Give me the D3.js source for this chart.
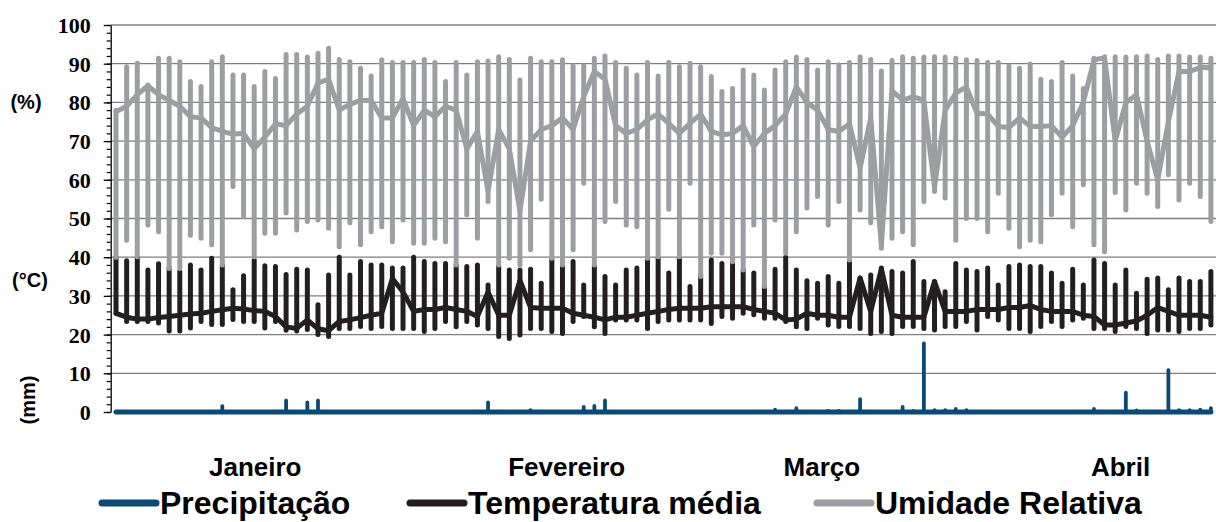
<!DOCTYPE html>
<html><head><meta charset="utf-8">
<script src="https://cdn.jsdelivr.net/npm/d3@7"></script>
<style>body{margin:0;background:#fff}svg{display:block}</style>
</head><body><svg id="c" width="1216" height="522"></svg>
<script>
// ---- data ----
const days = d3.range(1, 105); // daily observations (Jan -> mid Apr)
const months = ["Janeiro", "Fevereiro", "Março", "Abril"];
const monthLabelDay = [13.1, 42.4, 66.4, 94.5];
const yTickValues = [0,10,20,30,40,50,60,70,80,90,100];
const legendLabels = ["Precipitação", "Temperatura média", "Umidade Relativa"];

const precipitation = [0,0,0,0,0,0,0,0,0,0, 1.5,0,0,0,0,0,3,0,2.5,3, 0,0,0,0,0,0,0,0,0,0,
 0,0,0,0,0,2.5,0,0,0,0.5, 0,0,0,0,1.3,1.6,3,0,0,0, 0,0,0,0,0,0,0,0,0,0,
 0,0,0.6,0,1,0,0,0.3,0.3,0, 3.3,0,0,0,1.3,0.3,17.7,0.5,0.5,0.8, 0.5,0,0,0,0,0,0,0,0,0,
 0,0,0.8,0,0,5,0.4,0,0,10.8, 0.5,0.5,0.6,1];

const tempMax = [40,39.1,40,36.7,38.3,37.2,36.3,38,36.7,39.7, 38,31.6,35.2,39.3,37.8,37.6,35.5,36.9,36.7,27.7,
 35.4,40,35.4,38.9,38,38,37.2,37.2,40,38.9, 38.4,38.4,38,37.6,38,32.8,37.6,36.7,36.7,36.9,
 33.3,39.5,37.6,38.9,32.8,37.6,35,32.8,36.7,37.2, 39.7,39.7,35.9,40,32.4,35.4,39.3,38.4,39.7,36.7,
 35.9,32.4,36.9,40,36.7,33.9,33.3,35,33.3,38.9, 34.6,35.4,37.2,36.3,35.9,38.9,33.7,33.7,31.1,38.4,
 36.7,36.3,37.2,32.8,37.6,38,37.6,37.6,35.9,33.3, 36.9,32.8,39.3,38.4,32.8,36.7,30.7,34.3,34.6,31.6,
 34.6,33.7,33.7,36.3];
const tempMin = [25.5,23.4,23.4,23.4,23,20.9,20.9,21.7,23.4,22.6, 22.6,23.9,23.4,23.4,21.7,23.4,21.1,20.9,21.3,20,
 19.5,21.6,21.6,22.1,21.6,22.1,21.6,21.6,21.6,20.8, 21.6,23.4,22,23.4,22.5,21.6,19.5,19,19.9,21.6,
 21.6,20.8,20.3,23.4,24.7,22,20.3,23.8,23.8,23.8, 21.6,23.4,23.8,23.8,23.8,23.8,22.9,24.7,24.2,25.5,
 25.1,24.2,24.2,23.4,22,21.6,24.2,22.5,22.1,22.1, 21.6,20.3,20.8,20.3,22.1,22.1,21.6,21.2,22.1,22.1,
 23.4,21.2,24.7,23.8,21.6,21.6,20.8,22.1,23.4,22.1, 23.8,24.2,21.6,21.6,20.8,22.1,21.6,20.3,21.2,21.2,
 20.8,21.6,21.6,22.5];
const tempMean = [25.5,24.5,24,24,24.4,24.7,25,25.3,25.5,26, 26.4,26.8,26.6,26.2,26,24.7,22,21.6,23.8,21.5,
 21,23.4,23.8,24.4,25,25.5,34.5,31,26,26.5, 26.5,27,26.5,26,24.7,31,25,25,34,27,
 26.8,26.8,26.8,25.5,25,24.5,23.8,24.5,24.5,25, 25.5,26,26.5,26.8,26.8,26.8,27.2,27.2,27.2,27.2,
 26.5,26,25.5,23.8,24,25.5,25,25,24.5,24.5, 34.6,26,37,25,24.5,24.5,24.5,33.7,26,26,
 26,26.5,26.5,26.5,27,27,27.5,26.5,26,26, 26,25,24.7,22.5,22.5,23,23.5,25,27,26,
 25,25,25,24.5];

const humMax = [78,89.2,90.1,84.5,91.4,91.4,90.5,85.4,84.1,90.5, 91.8,87.1,87.1,84.1,88,86.2,92.4,92.4,91.7,92.7,
 94,91.1,90.5,88.8,86.8,91,90.3,90.3,90.3,91.1, 90.3,85.4,90.3,87.1,90.5,90.7,91.8,91.1,85.8,91.4,
 90.5,90.5,91,89.5,89.5,91.4,92,90.3,88.8,87.1, 90.3,86.8,90.3,89.2,90.1,89.2,86.7,82.8,83.6,88.4,
 87.1,83.2,88.4,90.5,91.7,91.1,88.4,90.5,89.7,90.3, 91.8,91.1,88.1,90.8,91.8,91.4,91.7,91.8,91.7,91.4,
 91,90.8,90.3,90.3,89.4,88.8,89.9,86,85.4,90.3, 86.8,83.6,91.4,91.8,91.8,91.7,91.8,92,91.1,92,
 92,91.7,91.7,91.4];
const humMin = [40,44.4,40.1,48.3,46.6,37.1,37.1,45.7,44.9,43.2, 38,58.3,50.5,40.1,46.2,46.2,51.4,47,49.2,49.6,
 47.5,42.7,48.9,43.2,46.6,47.9,44,49.6,43.6,43.6, 44.9,44,38,51,44.9,54.4,38,39.7,38,41.9,
 55,39.7,38,41.9,59.1,38,49.2,54.4,48.3,47.9, 39.7,40.1,52.4,40.1,59.1,35,41,41,38.8,36.7,
 48.3,32.4,49.6,41,46.6,52.7,55.7,48.3,54.4,39.3, 52.2,48.9,42.3,44.9,46.6,43.2,54.4,57,55.3,44.4,
 50,50,46.6,56.5,47.5,42.7,44.4,44,51,56.5, 47.9,58.7,43.2,41.4,56.7,52.2,59.1,56.5,53.1,61.3,
 54.8,59.1,55.7,49.2];
const humMean = [77.6,79,82,84.3,82,80.5,79,76.3,76,73.5, 72.5,71.8,72,68,71,74.5,74,77,79,85,
 86,78,79.5,80.5,80.5,76,76,81,74,78, 76.3,79,78,68,72.5,57,73,68,52,70,
 73,74,76,73,81.5,88,86,74,72,73, 75.5,77,74.6,72,74.6,77,72.5,71.6,72,74,
 68.6,72,74,77,84,80,78,73,72.5,74.5, 63,76,43,83,80.6,81.5,80.5,58,78,82.4,
 84,77.2,77,73.8,73.5,76,73.8,73.8,74,71, 74,80,91,91.5,70,80,82,70,60,75,
 88,88,89,89];

// ---- layout ----
const svg = d3.select("#c");
const L = 110.7, R = 1216.2, T = 25, B = 412;
const x = d3.scaleLinear().domain([-0.5, days.length - 0.5]).range([L, R]);
const y = d3.scaleLinear().domain([0, 100]).range([B, T]);
const colBlue = "#0b4a76", colBlack = "#231f20", colGray = "#9c9ea1";

// gridlines
svg.append("g").selectAll("line").data(yTickValues.filter(v => v > 0)).join("line")
  .attr("x1", L).attr("x2", R).attr("y1", d => y(d)).attr("y2", d => y(d))
  .attr("stroke", "#7f7f7f").attr("stroke-width", 1.3);

// axis
const minor = svg.append("g").attr("transform", `translate(${L},0)`)
  .call(d3.axisLeft(y).tickValues(d3.range(0, 101, 2)).tickSize(4).tickFormat(""));
minor.select(".domain").remove();
minor.selectAll("line").attr("stroke", "#000").attr("stroke-width", 1.2);
const major = svg.append("g").attr("transform", `translate(${L},0)`)
  .call(d3.axisLeft(y).tickValues(yTickValues).tickSize(7).tickPadding(13).tickSizeOuter(0));
major.select(".domain").attr("stroke", "#000").attr("stroke-width", 1.3);
major.selectAll("line").attr("stroke", "#000").attr("stroke-width", 1.3);
major.selectAll("text").attr("font-family", "'Liberation Serif', 'Times New Roman', serif")
  .attr("font-weight", "bold").attr("font-size", 22).attr("fill", "#000").attr("dy", "0.34em");

// series helper: high-low bars + mean line
function drawSeries(maxArr, minArr, meanArr, color, w) {
  const g = svg.append("g");
  g.selectAll("line").data(days.map((d, i) => i)).join("line")
    .attr("x1", i => x(i)).attr("x2", i => x(i))
    .attr("y1", i => y(minArr[i])).attr("y2", i => y(maxArr[i]))
    .attr("stroke", color).attr("stroke-width", w).attr("stroke-linecap", "round");
  g.append("path").datum(meanArr)
    .attr("d", d3.line().x((v, i) => x(i)).y(v => y(v)))
    .attr("fill", "none").attr("stroke", color).attr("stroke-width", w)
    .attr("stroke-linejoin", "round").attr("stroke-linecap", "round");
}

// precipitation
const gp = svg.append("g");
gp.selectAll("line").data(precipitation.map((v, i) => [i, v]).filter(d => d[1] > 0)).join("line")
  .attr("x1", d => x(d[0])).attr("x2", d => x(d[0]))
  .attr("y1", y(0)).attr("y2", d => y(d[1]))
  .attr("stroke", colBlue).attr("stroke-width", 3.8).attr("stroke-linecap", "round");
gp.append("path").datum(precipitation)
  .attr("d", d3.line().x((v, i) => x(i)).y(() => y(0)))
  .attr("fill", "none").attr("stroke", colBlue).attr("stroke-width", 5).attr("stroke-linecap", "round");

drawSeries(tempMax, tempMin, tempMean, colBlack, 5);
drawSeries(humMax, humMin, humMean, colGray, 5);

// unit labels
const sans = "'Liberation Sans', Arial, sans-serif";
svg.append("text").text("(%)").attr("x", 26).attr("y", y(80)).attr("dy", "0.35em")
  .attr("text-anchor", "middle").attr("font-family", sans).attr("font-weight", "bold").attr("font-size", 20);
svg.append("text").text("(°C)").attr("x", 30).attr("y", 280).attr("dy", "0.35em")
  .attr("text-anchor", "middle").attr("font-family", sans).attr("font-weight", "bold").attr("font-size", 20);
svg.append("text").text("(mm)").attr("transform", "translate(28,400) rotate(-90)").attr("dy", "0.35em")
  .attr("text-anchor", "middle").attr("font-family", sans).attr("font-weight", "bold").attr("font-size", 20);

// month labels
svg.append("g").selectAll("text").data(months).join("text")
  .text(d => d).attr("x", (d, i) => x(monthLabelDay[i])).attr("y", 476)
  .attr("text-anchor", "middle").attr("font-family", sans).attr("font-weight", "bold").attr("font-size", 26);

// legend
const legendX = [100, 408, 815];
const legendColors = [colBlue, colBlack, colGray];
const lg = svg.append("g").selectAll("g").data(legendLabels).join("g")
  .attr("transform", (d, i) => `translate(${legendX[i]},0)`);
lg.append("line").attr("x1", 2).attr("x2", 56).attr("y1", 503).attr("y2", 503)
  .attr("stroke", (d, i) => legendColors[i]).attr("stroke-width", 7).attr("stroke-linecap", "round");
lg.append("text").text(d => d).attr("x", 60).attr("y", 514)
  .attr("font-family", sans).attr("font-weight", "bold").attr("font-size", 32);
</script></body></html>
